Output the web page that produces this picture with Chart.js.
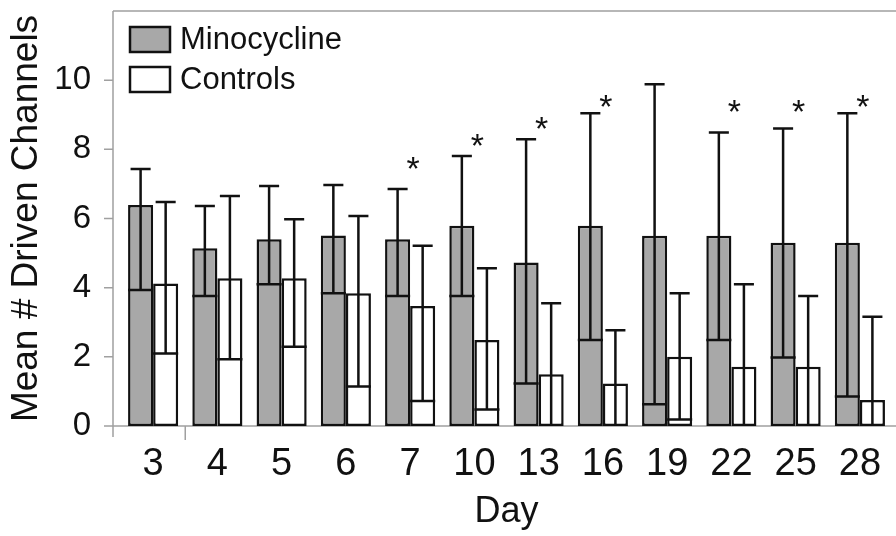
<!DOCTYPE html>
<html>
<head>
<meta charset="utf-8">
<script src="https://cdn.jsdelivr.net/npm/chart.js@4.4.0/dist/chart.umd.min.js"></script>
<style>
  html, body { margin: 0; padding: 0; background: #fff; }
  #wrap { width: 896px; height: 536px; }
</style>
</head>
<body>
<div id="wrap"><canvas id="myChart"></canvas></div>
<script>
const days = ['3', '4', '5', '6', '7', '10', '13', '16', '19', '22', '25', '28'];

const minoMean = [6.39, 5.14, 5.4, 5.51, 5.4, 5.79, 4.73, 5.79, 5.5, 5.5, 5.3, 5.3];
const minoLow = [3.93, 3.76, 4.1, 3.84, 3.76, 3.76, 1.23, 2.49, 0.63, 2.49, 1.98, 0.85];
const minoHigh = [7.43, 6.36, 6.94, 6.97, 6.85, 7.81, 8.29, 9.04, 9.88, 8.49, 8.6, 9.04];

const ctrlMean = [4.12, 4.27, 4.27, 3.84, 3.47, 2.49, 1.5, 1.23, 2.0, 1.71, 1.71, 0.75];
const ctrlLow = [2.1, 1.93, 2.29, 1.14, 0.72, 0.48, 0, 0, 0.19, 0, 0, 0];
const ctrlHigh = [6.48, 6.65, 5.98, 6.07, 5.21, 4.56, 3.55, 2.77, 3.84, 4.1, 3.76, 3.16];

// level of the significance asterisk, null = none
const stars = [null, null, null, null, 7.69, 8.35, 8.84, 9.48, null, 9.34, 9.34, 9.48];

const yTicks = [0, 2, 4, 6, 8, 10];

const FONT = "'Liberation Sans', Arial, sans-serif";
const INK = '#111';
const AXIS = 'rgb(160, 160, 160)';

const frame = {
  id: 'frame',
  beforeDatasetsDraw(chart) {
    const ctx = chart.ctx;
    const a = chart.chartArea;
    const y = chart.scales.y;
    const x = chart.scales.x;
    const axisX = a.left - 8;
    ctx.save();
    ctx.strokeStyle = AXIS;
    ctx.lineWidth = 1.5;
    ctx.beginPath();
    ctx.moveTo(axisX, a.top); ctx.lineTo(chart.width, a.top);
    ctx.moveTo(axisX, a.top); ctx.lineTo(axisX, a.bottom + 11);
    ctx.moveTo(axisX - 7, a.bottom); ctx.lineTo(chart.width, a.bottom);
    yTicks.forEach(v => {
      const py = y.getPixelForValue(v);
      ctx.moveTo(axisX - 9, py); ctx.lineTo(axisX, py);
    });
    const tx = (x.getPixelForValue(0) + x.getPixelForValue(1)) / 2;
    ctx.moveTo(tx, a.bottom); ctx.lineTo(tx, a.bottom + 14);
    ctx.stroke();
    ctx.restore();
  }
};

const errorBars = {
  id: 'errorBars',
  afterDatasetsDraw(chart) {
    const ctx = chart.ctx;
    const y = chart.scales.y;
    const x = chart.scales.x;
    const ranges = [[minoLow, minoHigh], [ctrlLow, ctrlHigh]];
    ctx.save();
    ctx.strokeStyle = INK;
    ctx.lineWidth = 2.5;
    ranges.forEach((r, d) => {
      chart.getDatasetMeta(d).data.forEach((bar, i) => {
        const half = bar.width / 2;
        const lo = y.getPixelForValue(r[0][i]);
        const hi = y.getPixelForValue(r[1][i]);
        ctx.beginPath();
        ctx.moveTo(bar.x, lo); ctx.lineTo(bar.x, hi);
        ctx.moveTo(bar.x - half * 0.8, hi); ctx.lineTo(bar.x + half * 0.8, hi);
        if (r[0][i] > 0) {
          ctx.moveTo(bar.x - half, lo); ctx.lineTo(bar.x + half, lo);
        }
        ctx.stroke();
      });
    });

    ctx.fillStyle = INK;
    ctx.font = '34px ' + FONT;
    ctx.textAlign = 'center';
    ctx.textBaseline = 'alphabetic';
    stars.forEach((s, i) => {
      if (s === null) return;
      ctx.fillText('*', x.getPixelForValue(i) + 3, y.getPixelForValue(s) + 20);
    });
    ctx.restore();
  }
};

const boxLegend = {
  id: 'boxLegend',
  afterDraw(chart) {
    const ctx = chart.ctx;
    const a = chart.chartArea;
    ctx.save();
    ctx.font = '31px ' + FONT;
    ctx.textBaseline = 'middle';
    ctx.lineWidth = 2.5;
    ctx.strokeStyle = INK;
    chart.data.datasets.forEach((ds, i) => {
      const top = a.top + 16 + i * 40;
      ctx.fillStyle = ds.backgroundColor;
      ctx.fillRect(a.left + 9, top, 40, 25);
      ctx.strokeRect(a.left + 9, top, 40, 25);
      ctx.fillStyle = INK;
      ctx.fillText(ds.label, a.left + 59, top + 13);
    });
    ctx.restore();
  }
};

new Chart(document.getElementById('myChart'), {
  type: 'bar',
  data: {
    labels: days,
    datasets: [
      {
        label: 'Minocycline',
        data: minoMean,
        backgroundColor: 'rgb(168, 168, 168)',
        borderColor: INK,
        borderWidth: 2.5,
        borderSkipped: false,
        barPercentage: 1,
        categoryPercentage: 0.78
      },
      {
        label: 'Controls',
        data: ctrlMean,
        backgroundColor: '#ffffff',
        borderColor: INK,
        borderWidth: 2.5,
        borderSkipped: false,
        barPercentage: 1,
        categoryPercentage: 0.78
      }
    ]
  },
  options: {
    responsive: true,
    maintainAspectRatio: false,
    animation: false,
    layout: { padding: { top: 11, right: 4, left: 0, bottom: 0 } },
    plugins: {
      legend: { display: false },
      tooltip: { enabled: false }
    },
    scales: {
      x: {
        grid: { display: false, drawTicks: false },
        border: { display: false },
        ticks: { color: INK, font: { family: FONT, size: 38 }, padding: 16 },
        title: {
          display: true, text: 'Day', color: INK,
          font: { family: FONT, size: 36 }, padding: { top: 0, bottom: 2 }
        },
        afterFit: s => { s.height = 110; s.paddingLeft = 0; s.paddingRight = 0; }
      },
      y: {
        min: 0,
        max: 12,
        grid: { display: false, drawTicks: false },
        border: { display: false },
        afterBuildTicks: axis => { axis.ticks = yTicks.map(v => ({ value: v })); },
        ticks: { color: INK, font: { family: FONT, size: 33 }, padding: 30 },
        title: {
          display: true, text: 'Mean # Driven Channels', color: INK,
          font: { family: FONT, size: 37 }, padding: { top: 5, bottom: 0 }
        },
        afterFit: s => { s.width = 121; s.paddingTop = 0; s.paddingBottom = 0; }
      }
    }
  },
  plugins: [frame, errorBars, boxLegend]
});
</script>
</body>
</html>
